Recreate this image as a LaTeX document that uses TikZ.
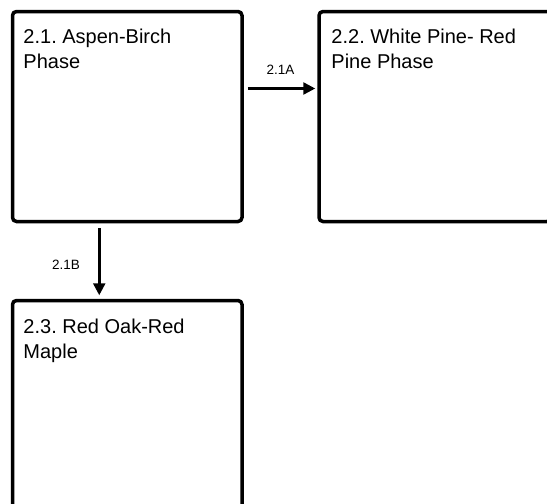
\documentclass[tikz,border=0pt]{standalone}
\usepackage{fontspec}
\setmainfont{Liberation Sans}
\usetikzlibrary{arrows.meta,positioning}
\frenchspacing
\tikzset{
  phase/.style={draw, line width=3.5pt, rounded corners=4pt,
    minimum width=229.5pt, minimum height=210pt, inner sep=0pt},
  phasetext/.style={inner sep=0pt, align=left,
    font=\fontsize{20}{25.5}\selectfont},
  trans/.style={line width=2.5pt, -{Triangle[length=12pt,width=12pt]}},
  translabel/.style={font=\fontsize{13.5}{15}\selectfont, inner sep=1pt}
}
\begin{document}
\begin{tikzpicture}[x=1pt,y=-1pt]
\useasboundingbox (0,0) rectangle (547,504);

% phase boxes
\node[phase] (b1) at (127.25,116.5) {};
\node[phase, minimum width=232pt] (b2) at (435,116.5) {};
\node[phase] (b3) at (127.25,405.5) {};

\node[phasetext, below right=19pt and 12.5pt of b1.north west] (t1) {2.1. Aspen-Birch\\Phase};
\node[phasetext, below right=19pt and 14pt of b2.north west] (t2) {2.2. White Pine- Red\\Pine Phase};
\node[phasetext, below right=20pt and 12.5pt of b3.north west] (t3) {2.3. Red Oak-Red\\Maple};

% transitions
\draw[trans, shorten <=4pt, shorten >=2pt] ([yshift=28pt]b1.east) -- ([yshift=28pt]b2.west)
  node[translabel, midway, above=12pt] (l1) {2.1A};
\draw[trans, shorten <=5pt, shorten >=3.5pt] ([xshift=-28pt]b1.south) -- ([xshift=-28pt]b3.north)
  node[translabel, midway, left=17pt, yshift=-4pt] (l2) {2.1B};

\end{tikzpicture}
\end{document}
